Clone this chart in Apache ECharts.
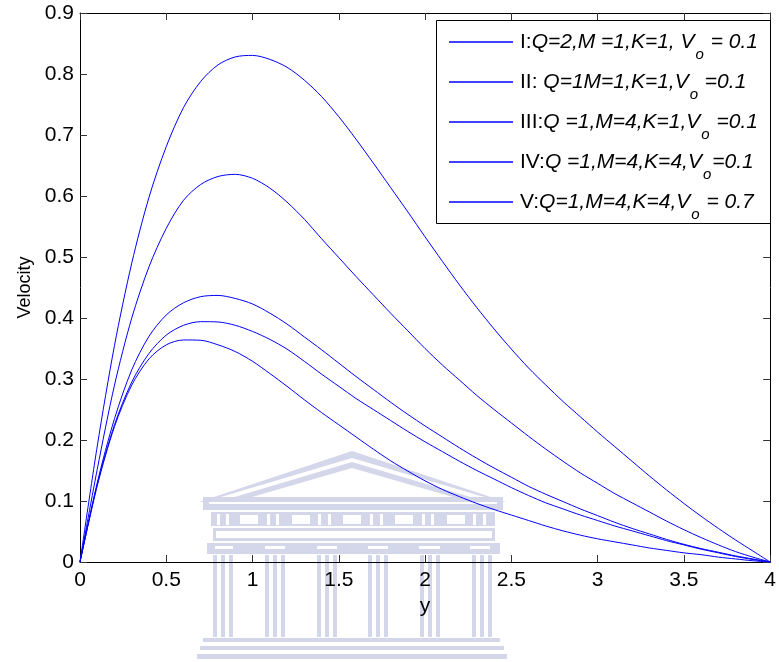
<!DOCTYPE html>
<html>
<head>
<meta charset="utf-8">
<script src="https://cdn.jsdelivr.net/npm/echarts@6/dist/echarts.min.js"></script>
<style>
html,body{margin:0;padding:0;background:#fff;}
#chart{width:779px;height:662px;}
</style>
</head>
<body>
<div id="chart"></div>
<script>
// ---- data ----
var xTicks = [0, 0.5, 1, 1.5, 2, 2.5, 3, 3.5, 4];
var yTicks = [0, 0.1, 0.2, 0.3, 0.4, 0.5, 0.6, 0.7, 0.8, 0.9];

var seriesNames = ['I', 'II', 'III', 'IV', 'V'];

// x positions where the curves were read (y = 0 ... 4)
var xs = [0,0.1,0.2,0.3,0.4,0.5,0.6,0.7,0.8,0.9,1.0,1.1,1.2,1.3,1.4,1.5,1.6,1.7,1.8,1.9,2.0,2.1,2.2,2.3,2.4,2.5,2.6,2.7,2.8,2.9,3.0,3.1,3.2,3.3,3.4,3.5,3.6,3.7,3.8,3.9,4.0];

var velI   = [0,0.19,0.355,0.49,0.598,0.681,0.745,0.788,0.815,0.828,0.8305,0.824,0.811,0.790,0.763,0.730,0.693,0.654,0.614,0.574,0.533,0.493,0.454,0.417,0.382,0.349,0.318,0.290,0.263,0.238,0.213,0.189,0.165,0.141,0.118,0.096,0.075,0.055,0.036,0.018,0];
var velII  = [0,0.152,0.29,0.400,0.484,0.547,0.593,0.619,0.632,0.6355,0.629,0.613,0.590,0.562,0.530,0.499,0.468,0.438,0.408,0.379,0.350,0.323,0.298,0.273,0.250,0.228,0.206,0.185,0.165,0.146,0.129,0.112,0.097,0.082,0.067,0.053,0.040,0.028,0.017,0.008,0];
var velIII = [0,0.13,0.235,0.315,0.37,0.405,0.425,0.435,0.437,0.432,0.423,0.408,0.390,0.369,0.348,0.326,0.304,0.283,0.262,0.242,0.223,0.205,0.187,0.170,0.154,0.139,0.124,0.111,0.099,0.087,0.076,0.065,0.055,0.046,0.037,0.029,0.022,0.016,0.010,0.005,0];
var velIV  = [0,0.127,0.225,0.295,0.342,0.372,0.388,0.394,0.3935,0.388,0.378,0.365,0.349,0.329,0.308,0.288,0.268,0.250,0.232,0.214,0.197,0.181,0.165,0.150,0.136,0.122,0.109,0.097,0.087,0.077,0.068,0.059,0.051,0.043,0.035,0.028,0.021,0.015,0.009,0.004,0];
var velV   = [0,0.125,0.222,0.29,0.333,0.356,0.364,0.3635,0.356,0.345,0.329,0.309,0.288,0.266,0.245,0.225,0.205,0.185,0.166,0.149,0.133,0.119,0.107,0.096,0.086,0.077,0.068,0.059,0.051,0.044,0.038,0.033,0.028,0.023,0.019,0.015,0.012,0.008,0.005,0.002,0];

var legendLabels = {
  'I':   '{n|I:}{i|Q=2,M =1,K=1, V}{s|o}{i| = 0.1}',
  'II':  '{n|II: }{i|Q=1M=1,K=1,V}{s|o}{i| =0.1}',
  'III': '{n|III:}{i|Q =1,M=4,K=1,V}{s|o}{i| =0.1}',
  'IV':  '{n|IV:}{i|Q =1,M=4,K=4,V}{s|o}{i|=0.1}',
  'V':   '{n|V:}{i|Q=1,M=4,K=4,V}{s|o}{i| = 0.7}'
};

// ---- build ----
var FONT = 'Liberation Sans, Arial, Helvetica, sans-serif';
var curves = [velI, velII, velIII, velIV, velV];
var series = seriesNames.map(function (nm, k) {
  return {
    name: nm, type: 'line',
    data: xs.map(function (x, j) { return [x, curves[k][j]]; }),
    symbol: 'none', smooth: 0.3,
    lineStyle: { color: '#0000ff', width: 1 }, itemStyle: { color: '#0000ff' },
    z: 3
  };
});

var W = '#d4d6ea';
var wm = [];
function R(x, y, w, h, c) { wm.push({ type: 'rect', z: -5, silent: true, shape: { x: x, y: y, width: w, height: h }, style: { fill: c || W } }); }
function P(pts, c) { wm.push({ type: 'polygon', z: -5, silent: true, shape: { points: pts }, style: { fill: c || W } }); }
// pediment
P([[199,502],[352,451],[506,502]]);
P([[214,499],[352,458],[491,499]], '#ffffff');
P([[228,499],[352,462],[477,499]]);
P([[252,497],[352,468],[453,497]], '#ffffff');
// cornice
R(203,497,300,13);
R(209,502,288,2,'#ffffff');
// frieze with windows
R(211,512,284,14);
[240,292,343,395,447].forEach(function (x) { R(x,515,18,9,'#ffffff'); });
[217,226,267,276,318,328,370,380,422,431,473,483].forEach(function (x) { R(x,514,3,11,'#ffffff'); });
// band
R(213,528,282,13);
R(216,531,276,7,'#ffffff');
// base band
R(207,543,293,11);
[[215,18],[265,20],[317,20],[368,20],[419,21],[470,20]].forEach(function (d) { R(d[0],546,d[1],3,'#ffffff'); });
// columns
[213,265,317,368,420,472].forEach(function (x) { R(x,555,4,82); R(x+8,555,4,82); R(x+16,555,4,82); });
// steps
R(203,638,297,4);
R(200,646,304,4);
R(197,654,310,5);

var legendBox = { type: 'rect', z: 4, silent: true, shape: { x: 436.5, y: 20.5, width: 334, height: 203 }, style: { fill: '#ffffff', stroke: '#000', lineWidth: 1 } };

var axisCommon = {
  axisLine: { show: true, onZero: false, lineStyle: { color: '#000', width: 1 } },
  axisTick: { show: true, inside: true, length: 7, lineStyle: { color: '#333', width: 1 } },
  splitLine: { show: false }
};

var option = {
  animation: false,
  backgroundColor: '#ffffff',
  grid: { left: 80, right: 5, top: 13, bottom: 100, containLabel: false },
  xAxis: [
    Object.assign({ type: 'value', position: 'bottom', min: xTicks[0], max: xTicks[xTicks.length - 1], interval: xTicks[1] - xTicks[0],
      name: 'y', nameLocation: 'middle', nameGap: 33,
      nameTextStyle: { fontSize: 21, fontFamily: FONT, color: '#000' },
      axisLabel: { fontSize: 21, fontFamily: FONT, color: '#000', margin: 8 } }, axisCommon),
    Object.assign({ type: 'value', position: 'top', min: xTicks[0], max: xTicks[xTicks.length - 1], interval: xTicks[1] - xTicks[0],
      axisLabel: { show: false } }, axisCommon)
  ],
  yAxis: [
    Object.assign({ type: 'value', position: 'left', min: yTicks[0], max: yTicks[yTicks.length - 1], interval: yTicks[1] - yTicks[0],
      name: 'Velocity', nameLocation: 'middle', nameGap: 44,
      nameTextStyle: { fontSize: 18, fontFamily: FONT, color: '#000' },
      axisLabel: { fontSize: 21, fontFamily: FONT, color: '#000', margin: 6 } }, axisCommon),
    Object.assign({ type: 'value', position: 'right', min: yTicks[0], max: yTicks[yTicks.length - 1], interval: yTicks[1] - yTicks[0],
      axisLabel: { show: false } }, axisCommon)
  ],
  legend: {
    orient: 'vertical', left: 449, top: 31.5, padding: 0, itemGap: 9,
    itemWidth: 64, itemHeight: 1.5, icon: 'rect', z: 5,
    itemStyle: { color: '#0000ff', borderWidth: 0 },
    data: seriesNames,
    formatter: function (name) { return legendLabels[name]; },
    textStyle: {
      fontSize: 21, fontFamily: FONT, color: '#000',
      rich: {
        n: { fontSize: 21, fontFamily: FONT, color: '#000', padding: [0,0,0,2] },
        i: { fontSize: 21, fontFamily: FONT, fontStyle: 'italic', color: '#000' },
        s: { fontSize: 15, fontFamily: FONT, fontStyle: 'italic', color: '#000', padding: [26,1,0,1] }
      }
    }
  },
  graphic: { elements: wm.concat([legendBox]) },
  series: series
};

var chart = echarts.init(document.getElementById('chart'), null, { renderer: 'canvas' });
chart.setOption(option);
</script>
</body>
</html>
